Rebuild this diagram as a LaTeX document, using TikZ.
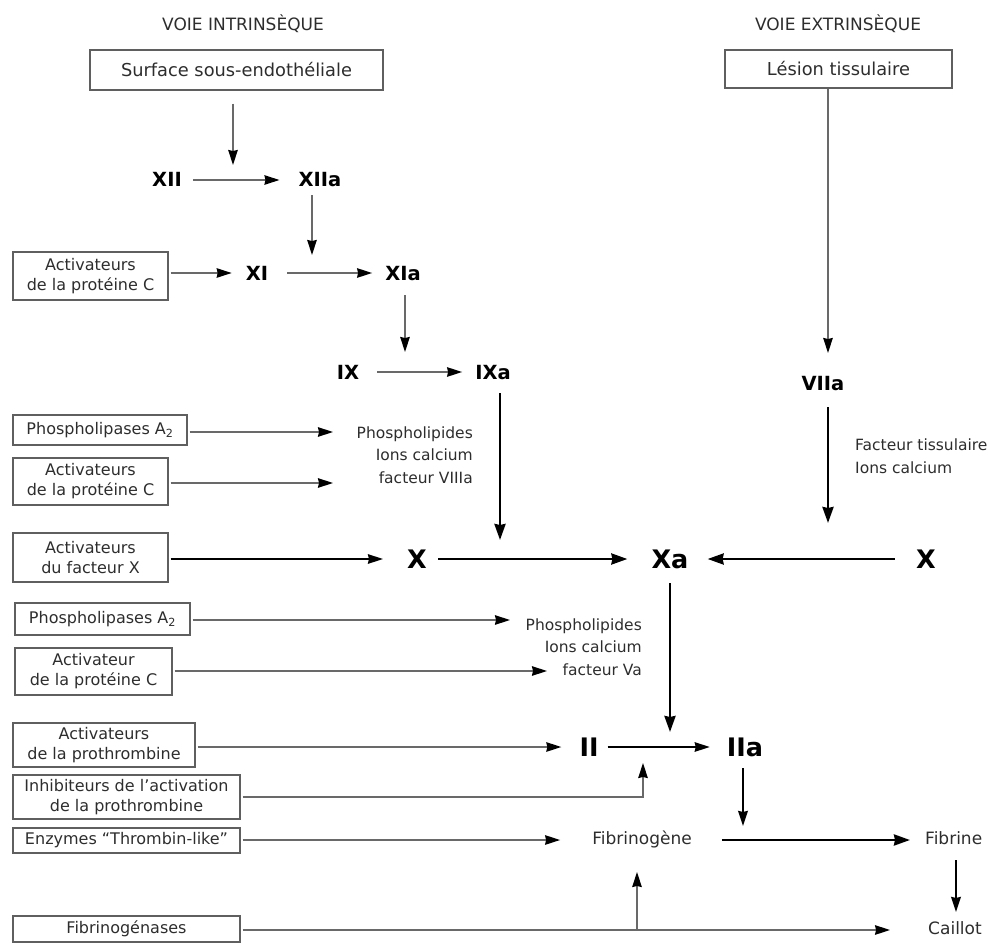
\documentclass[tikz,border=0pt]{standalone}
\usepackage{fontspec}
\setmainfont{DejaVu Sans}
\usetikzlibrary{arrows.meta}
\definecolor{linegray}{RGB}{105,105,105}
\definecolor{boxgray}{RGB}{95,95,95}
\definecolor{textgray}{RGB}{45,45,45}
\begin{document}
\begin{tikzpicture}[x=1pt,y=-1pt,
  box/.style={draw=boxgray,line width=1.2pt,inner sep=1pt,align=center,
    text=textgray,font=\fontsize{16}{20}\selectfont},
  topbox/.style={box,font=\fontsize{17.8}{20}\selectfont},
  hdr/.style={inner sep=0pt,text=textgray,font=\fontsize{17}{20}\selectfont},
  fac/.style={inner sep=0pt,font=\bfseries\fontsize{19.5}{24}\selectfont,text height=14pt,text depth=0pt},
  big/.style={inner sep=0pt,font=\bfseries\fontsize{25.5}{30}\selectfont,text height=18.5pt,text depth=0pt},
  word/.style={inner sep=0pt,text=textgray,font=\fontsize{17}{20}\selectfont,text height=12.5pt,text depth=3.5pt},
  lab/.style={inner sep=0pt,text=textgray,font=\fontsize{15.5}{22.5}\selectfont},
  tipS/.style={-{Stealth[length=15pt,width=9.5pt,inset=1pt,color=black]}},
  tipL/.style={-{Stealth[length=16pt,width=11pt,inset=1pt,color=black]}},
  thinarr/.style={draw=linegray,line width=1.4pt,tipS},
  medarr/.style={draw=black,line width=1.8pt,tipS},
  thickarr/.style={draw=black,line width=2.6pt,tipL}]
\useasboundingbox (0,0) rectangle (988,944);

% headings
\node[hdr] (hint) at (243,24) {VOIE INTRINSÈQUE};
\node[hdr] (hext) at (838,24) {VOIE EXTRINSÈQUE};

% boxed triggers and modulators
\node[topbox,minimum width=293pt,minimum height=40pt] (surf) at (236.5,70) {Surface sous-endothéliale};
\node[topbox,minimum width=227pt,minimum height=38pt] (lesion) at (838.5,69) {Lésion tissulaire};
\node[box,minimum width=155pt,minimum height=48pt] (act1) at (90.5,276) {Activateurs\\de la protéine C};
\node[box,minimum width=174pt,minimum height=30pt] (phos1) at (100,430) {Phospholipases A\textsubscript{2}};
\node[box,minimum width=155pt,minimum height=47pt] (act2) at (90.5,481.5) {Activateurs\\de la protéine C};
\node[box,minimum width=155pt,minimum height=49pt] (actx) at (90.5,557.5) {Activateurs\\du facteur X};
\node[box,minimum width=175pt,minimum height=32pt] (phos2) at (102.5,619) {Phospholipases A\textsubscript{2}};
\node[box,minimum width=157pt,minimum height=47pt] (act3) at (93.5,671.5) {Activateur\\de la protéine C};
\node[box,minimum width=182pt,minimum height=44pt] (actpro) at (104,745) {Activateurs\\de la prothrombine};
\node[box,minimum width=227pt,minimum height=44pt] (inhib) at (126.5,797) {Inhibiteurs de l'activation\\de la prothrombine};
\node[box,minimum width=227pt,minimum height=25pt] (enz) at (126.5,840.5) {Enzymes “Thrombin-like”};
\node[box,minimum width=227pt,minimum height=26pt] (fibg) at (126.5,929) {Fibrinogénases};

% clotting factors
\node[fac] (xii) at (167,180) {XII};
\node[fac] (xiia) at (320,180) {XIIa};
\node[fac] (xi) at (257,273) {XI};
\node[fac] (xia) at (403,273) {XIa};
\node[fac] (ix) at (348,372) {IX};
\node[fac] (ixa) at (493,372) {IXa};
\node[fac] (viia) at (823,383) {VIIa};
\node[big] (xl) at (417,559) {X};
\node[big] (xa) at (670,559) {Xa};
\node[big] (xr) at (926,559) {X};
\node[big] (ii) at (589,747) {II};
\node[big] (iia) at (745,747) {IIa};
\node[word] (fibrinogene) at (642,840) {Fibrinogène};
\node[word,anchor=west] (fibrine) at (925,840) {Fibrine};
\node[word] (caillot) at (955,930) {Caillot};

% cofactor lists
\node[lab,align=right,anchor=east] (cof1) at (473,455) {Phospholipides\\Ions calcium\\facteur VIIIa};
\node[lab,align=left,anchor=west] (cof2) at (855,456) {Facteur tissulaire\\Ions calcium};
\node[lab,align=right,anchor=east] (cof3) at (642,647) {Phospholipides\\Ions calcium\\facteur Va};

% arrow ends that stop on other arrows
\coordinate (m1) at (233,165);
\coordinate (m2) at (312,255);
\coordinate (m3) at (405,352);
\coordinate (m4) at (500,540);
\coordinate (v1) at (828,353);
\coordinate (v2) at (828,523);
\coordinate (m6) at (670,732);
\coordinate (m7) at (643,763);
\coordinate (m8) at (743,826);
\coordinate (p1) at (333,432);
\coordinate (p2) at (333,483);
\coordinate (p3) at (510,620);
\coordinate (p4) at (547,671);
\coordinate (j9) at (637,930);
\coordinate (m9) at (637,872);
\coordinate (c1) at (956,912);

% intrinsic pathway
\draw[thinarr,shorten <=13pt] (surf.south -| m1) -- (m1);
\draw[thinarr,shorten <=11pt,shorten >=19pt] (xii) -- (xiia);
\draw[thinarr,shorten <=8pt] (xiia.south -| m2) -- (m2);
\draw[thinarr,shorten <=2pt,shorten >=14pt] (act1.east |- xi) -- (xi);
\draw[thinarr,shorten <=19pt,shorten >=13pt] (xi) -- (xia);
\draw[thinarr,shorten <=15pt] (xia.south -| m3) -- (m3);
\draw[thinarr,shorten <=18pt,shorten >=13pt] (ix) -- (ixa);
\draw[thinarr,shorten <=2pt] (phos1.east |- p1) -- (p1);
\draw[thinarr,shorten <=2pt] (act2.east |- p2) -- (p2);
\draw[thickarr,shorten <=14pt] (ixa.south -| m4) -- (m4);

% common pathway
\draw[medarr,shorten <=2pt,shorten >=24pt] (actx.east |- xl) -- (xl);
\draw[thickarr,shorten <=11pt,shorten >=24pt] (xl) -- (xa);
\draw[thickarr,shorten <=21pt,shorten >=19pt] (xr) -- (xa);

% extrinsic pathway
\draw[thinarr] (lesion.south -| v1) -- (v1);
\draw[thickarr,shorten <=17pt] (viia.south -| v2) -- (v2);

\draw[thinarr,shorten <=2pt] (phos2.east |- p3) -- (p3);
\draw[thinarr,shorten <=2pt] (act3.east |- p4) -- (p4);
\draw[thickarr,shorten <=15pt] (xa.south -| m6) -- (m6);

\draw[thinarr,shorten <=2pt,shorten >=18pt] (actpro.east |- ii) -- (ii);
\draw[medarr,shorten <=9pt,shorten >=17pt] (ii) -- (iia);
\draw[thinarr,shorten <=2pt] (inhib.east) -| (m7);
\draw[thinarr,shorten <=2pt,shorten >=32pt] (enz.east |- fibrinogene) -- (fibrinogene);
\draw[medarr,line width=2.2pt,shorten <=12pt] (iia.south -| m8) -- (m8);
\draw[thickarr,shorten <=30pt,shorten >=15pt] (fibrinogene) -- (fibrine);
\draw[medarr,line width=2.2pt,shorten <=12pt] (fibrine.south -| c1) -- (c1);
\draw[thinarr,shorten <=2pt,shorten >=38pt] (fibg.east |- caillot) -- (caillot);
\draw[thinarr] (j9) -- (m9);
\end{tikzpicture}
\end{document}
